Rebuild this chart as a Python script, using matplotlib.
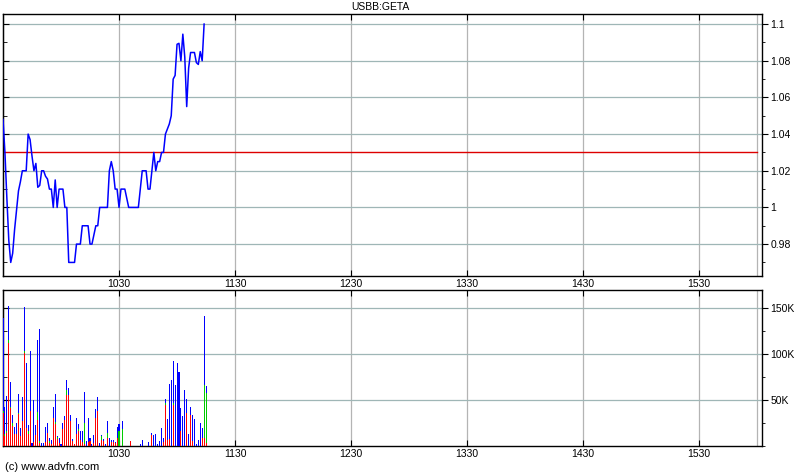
import matplotlib
matplotlib.use('Agg')
import matplotlib.pyplot as plt
from matplotlib.ticker import FixedLocator, MultipleLocator, FuncFormatter, NullFormatter
import numpy as np

plt.rcParams['font.family'] = ['Liberation Sans', 'DejaVu Sans']

title = 'USBB:GETA'
credit = '(c) www.advfn.com'

# minutes after 09:30
price_minute = [0, 1, 2, 3, 4, 5, 6, 8, 9, 10, 12, 13, 14, 15, 16, 17, 18, 19, 20,
                21, 22, 23, 24, 25, 26, 27, 28, 29, 31, 32, 33, 34, 37, 38, 40, 41,
                44, 45, 46, 48, 49, 50, 54, 55, 56, 57, 58, 59, 60, 61, 63, 65, 70,
                72, 74, 75, 76, 78, 79, 80, 81, 82, 83, 84, 86, 87, 88, 89, 90, 91,
                92, 93, 94, 95, 96, 97, 99, 100, 101, 102, 103, 104]
price = [1.048, 1.03, 1.005, 0.982, 0.97, 0.975, 0.988, 1.009, 1.014, 1.02, 1.02,
         1.04, 1.037, 1.028, 1.02, 1.024, 1.011, 1.012, 1.02, 1.02, 1.017, 1.0155,
         1.01, 1.01, 1.0, 1.015, 1.0, 1.01, 1.01, 1.0, 1.0, 0.97, 0.97, 0.98, 0.98,
         0.99, 0.99, 0.98, 0.98, 0.99, 0.99, 1.0, 1.0, 1.02, 1.025, 1.02, 1.01,
         1.01, 1.0, 1.01, 1.01, 1.0, 1.0, 1.02, 1.02, 1.01, 1.01, 1.03, 1.02,
         1.025, 1.025, 1.03, 1.03, 1.04, 1.0455, 1.05, 1.07, 1.072, 1.089, 1.0895,
         1.08, 1.0945, 1.082, 1.055, 1.076, 1.0845, 1.0845, 1.079, 1.078, 1.085,
         1.08, 1.1]
ref_price = 1.03

vol_minute = list(range(61)) + [62, 66, 71, 72, 75] + list(range(77, 106))
vol_total = [140, 43, 55, 153, 70, 34, 21, 25, 57, 20, 53, 152, 90, 23, 104, 3, 50,
             23, 115, 127, 3, 3, 21, 25, 9, 6, 43, 57, 11, 9, 2, 25, 33, 72, 63, 34,
             8, 2, 31, 24, 16, 16, 59, 5, 30, 9, 2, 12, 40, 53, 3, 12, 8, 2, 27, 9,
             7, 7, 4, 21, 24,
             27, 5, 2, 7, 4,
             14, 12, 13, 2, 5, 20, 9, 51, 29, 68, 72, 93, 66, 90, 81, 41, 33, 61, 51,
             13, 43, 34, 29, 2, 6, 25, 20, 142, 65]
vol_red = [36, 11, 14, 112, 41, 22, 13, 13, 35, 11, 27, 101, 20, 13, 38, 0, 4, 12,
           28, 3, 0, 0, 4, 14, 3, 2, 31, 24, 8, 3, 0, 18, 28, 56, 56, 27, 5, 2, 13,
           16, 7, 4, 2, 0, 4, 5, 0, 3, 30, 38, 0, 6, 5, 0, 9, 0, 4, 4, 3, 9, 0,
           0, 5, 0, 0, 0,
           12, 0, 0, 0, 0, 0, 4, 45, 6, 8, 0, 45, 0, 0, 0, 16, 0, 0, 36, 0, 34, 5,
           0, 0, 0, 0, 9, 9, 3]
vol_green = [2, 2, 2, 4, 2, 3, 0, 0, 1, 0, 0, 2, 0, 3, 0, 0, 0, 0, 9, 2, 0, 0, 0, 0,
             2, 0, 0, 2, 2, 0, 0, 0, 0, 5, 0, 0, 0, 0, 0, 2, 0, 0, 23, 0, 0, 0, 0, 0,
             0, 0, 0, 5, 0, 0, 5, 0, 0, 0, 0, 0, 16,
             18, 0, 0, 0, 0,
             0, 0, 0, 0, 0, 0, 0, 2, 0, 0, 0, 2, 0, 0, 0, 0, 0, 0, 0, 0, 0, 0, 0, 0,
             0, 0, 0, 58, 55]

xtick_minutes = [60, 120, 180, 240, 300, 360]
xtick_labels = ['1030', '1130', '1230', '1330', '1430', '1530']

fig = plt.figure(figsize=(8, 4.75), dpi=100)
ax1 = fig.add_axes([3 / 800, 1 - 276 / 475, 759 / 800, 262 / 475])
ax2 = fig.add_axes([3 / 800, 1 - 446 / 475, 759 / 800, 156 / 475])

# price panel limits / ticks
ax1.set_ylim(0.9626, 1.1055)
yt = [0.98, 1.0, 1.02, 1.04, 1.06, 1.08, 1.1]
ax1.yaxis.set_major_locator(FixedLocator(yt))
ax1.yaxis.set_minor_locator(MultipleLocator(0.01))
ax1.yaxis.set_major_formatter(FuncFormatter(lambda v, p: f'{v:g}'))

# volume panel limits / ticks
ax2.set_ylim(0, 170000)
vt = [50000, 100000, 150000]
ax2.yaxis.set_major_locator(FixedLocator(vt))
ax2.yaxis.set_minor_locator(MultipleLocator(25000))
ax2.yaxis.set_major_formatter(FuncFormatter(lambda v, p: f'{int(v / 1000)}K'))

xmax = 392.5
for ax, ticks, minor in ((ax1, yt, 0.01), (ax2, vt, 25000)):
    ax.set_xlim(0, xmax)
    ax.xaxis.set_major_locator(FixedLocator(xtick_minutes))
    ax.set_xticklabels(xtick_labels)
    for x in xtick_minutes + [390]:
        ax.axvline(x, color='#b4b4b4', lw=0.9, zorder=0)
    for v in ticks:
        ax.axhline(v, color='#9fb6b6', lw=0.9, zorder=0)
    ax.yaxis.tick_right()
    ax.tick_params(axis='y', which='both', direction='out', right=True, left=False,
                   labelsize=7.5, pad=2)
    ax.tick_params(axis='y', which='major', length=4)
    ax.tick_params(axis='y', which='minor', length=2)
    ax.tick_params(axis='x', direction='in', length=4, labelsize=7.5, pad=2,
                   top=True, bottom=True)
    for s in ax.spines.values():
        s.set_linewidth(1.0)
        s.set_color('black')
    sec = ax.secondary_yaxis('left')
    sec.yaxis.set_major_locator(FixedLocator(ticks))
    sec.yaxis.set_minor_locator(MultipleLocator(minor))
    sec.yaxis.set_major_formatter(NullFormatter())
    sec.yaxis.set_minor_formatter(NullFormatter())
    sec.tick_params(which='both', direction='in')
    sec.tick_params(which='major', length=4)
    sec.tick_params(which='minor', length=3)

ax1.plot([0, 390], [ref_price, ref_price], color='#dd0000', lw=1.0, zorder=2)
ax1.plot(price_minute, price, color='#0000ff', lw=1.1, zorder=3)

tot = np.array(vol_total) * 1000
red = np.array(vol_red) * 1000
green = np.array(vol_green) * 1000
blue = tot - red - green
vm = np.array(vol_minute)
w = 0.55
kw = dict(width=w, zorder=3, linewidth=0, antialiased=False)
ax2.bar(vm, red, color='#ff0000', **kw)
ax2.bar(vm, green, bottom=red, color='#00cc00', **kw)
ax2.bar(vm, blue, bottom=red + green, color='#0000ff', **kw)

fig.text(380 / 800, 1 - 7 / 475, title, ha='center', va='center', fontsize=7.5)
fig.text(5 / 800, 1 - 467 / 475, credit, ha='left', va='center', fontsize=8)

fig.savefig('out.png', dpi=100)
